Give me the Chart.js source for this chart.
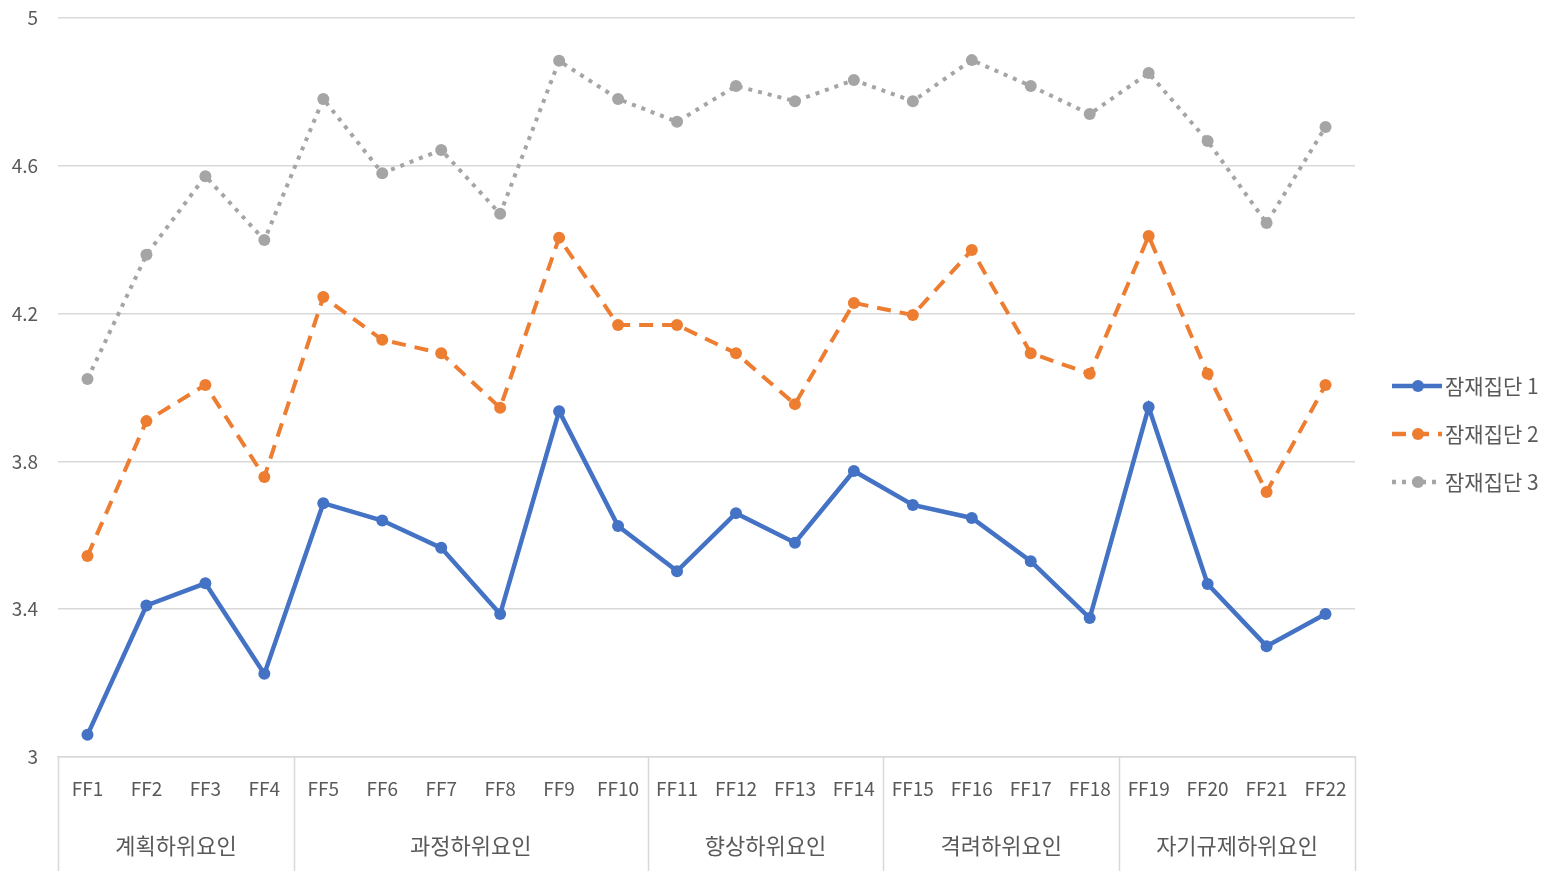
<!DOCTYPE html>
<html>
<head>
<meta charset="utf-8">
<script src="https://cdn.jsdelivr.net/npm/chart.js@4/dist/chart.umd.min.js"></script>
<style>
  html, body { margin: 0; padding: 0; background: #fff; }
  #wrap { width: 1562px; height: 872px; }
</style>
</head>
<body>
<div id="wrap"><canvas id="chart" width="1562" height="872"></canvas></div>
<script>
const categories = ["FF1", "FF2", "FF3", "FF4", "FF5", "FF6", "FF7", "FF8", "FF9", "FF10", "FF11",
  "FF12", "FF13", "FF14", "FF15", "FF16", "FF17", "FF18", "FF19", "FF20", "FF21", "FF22"];
const groupNames = ["계획하위요인", "과정하위요인", "향상하위요인", "격려하위요인", "자기규제하위요인"];
const groupSizes = [4, 6, 4, 4, 4];
const seriesNames = ["잠재집단 1", "잠재집단 2", "잠재집단 3"];
const group1 = [3.06, 3.41, 3.47, 3.225, 3.687, 3.64, 3.566, 3.387, 3.936, 3.625, 3.503,
  3.66, 3.58, 3.774, 3.682, 3.647, 3.53, 3.376, 3.947, 3.468, 3.30, 3.387];
const group2 = [3.544, 3.909, 4.007, 3.758, 4.245, 4.129, 4.093, 3.945, 4.405, 4.169, 4.169,
  4.093, 3.955, 4.229, 4.196, 4.372, 4.093, 4.037, 4.41, 4.037, 3.717, 4.007];
const group3 = [4.023, 4.359, 4.572, 4.399, 4.781, 4.58, 4.643, 4.47, 4.884, 4.781, 4.719,
  4.816, 4.775, 4.832, 4.775, 4.886, 4.816, 4.74, 4.851, 4.667, 4.445, 4.705];
const yTicks = [3, 3.4, 3.8, 4.2, 4.6, 5];

const colors = ["#4472C4", "#ED7D31", "#A5A5A5"];
const dashes = [[], [14, 9], [4, 6]];
const textColor = "#595959";
const gridColor = "#d9d9d9";
const fontFamily = "'Noto Sans CJK KR', 'Noto Sans', sans-serif";

// group labels + divider lines under the x axis, and the legend on the right
const groupAxis = {
  id: "groupAxis",
  afterDraw(chart) {
    const { ctx, chartArea, scales } = chart;
    const x = scales.x;
    const step = x.getPixelForValue(1) - x.getPixelForValue(0);
    const top = chartArea.bottom;
    const bottom = chart.height - 1;
    ctx.save();
    ctx.strokeStyle = gridColor;
    ctx.lineWidth = 1.5;
    let start = 0;
    const edges = [0];
    groupSizes.forEach(n => { start += n; edges.push(start); });
    edges.forEach(i => {
      const px = Math.round(x.getPixelForValue(i) - step / 2) + 0.5;
      ctx.beginPath();
      ctx.moveTo(px, top);
      ctx.lineTo(px, bottom);
      ctx.stroke();
    });
    ctx.fillStyle = textColor;
    ctx.font = "22px " + fontFamily;
    ctx.textAlign = "center";
    ctx.textBaseline = "middle";
    groupNames.forEach((name, g) => {
      const a = x.getPixelForValue(edges[g]) - step / 2;
      const b = x.getPixelForValue(edges[g + 1]) - step / 2;
      ctx.fillText(name, (a + b) / 2, 846);
    });

    // legend
    ctx.textAlign = "left";
    ctx.font = "21px " + fontFamily;
    chart.data.datasets.forEach((ds, i) => {
      const y = 386 + i * 48;
      ctx.strokeStyle = colors[i];
      ctx.lineWidth = 4.5;
      ctx.setLineDash(dashes[i]);
      ctx.beginPath();
      ctx.moveTo(1392, y);
      ctx.lineTo(1442, y);
      ctx.stroke();
      ctx.setLineDash([]);
      ctx.fillStyle = colors[i];
      ctx.beginPath();
      ctx.arc(1418, y, 6, 0, Math.PI * 2);
      ctx.fill();
      ctx.fillStyle = textColor;
      ctx.fillText(ds.label, 1445, y);
    });
    ctx.restore();
  }
};

const datasets = [group1, group2, group3].map((values, i) => ({
  label: seriesNames[i],
  data: values,
  borderColor: colors[i],
  backgroundColor: colors[i],
  borderWidth: i === 0 ? 4.5 : 4,
  borderDash: dashes[i],
  pointRadius: 6,
  pointHoverRadius: 6,
  pointBackgroundColor: colors[i],
  pointBorderWidth: 0,
  tension: 0,
  fill: false
}));

new Chart(document.getElementById("chart"), {
  type: "line",
  data: { labels: categories, datasets },
  options: {
    responsive: false,
    animation: false,
    layout: { padding: { top: 18, right: 207, left: 0, bottom: 0 } },
    plugins: {
      legend: { display: false },
      tooltip: { enabled: false }
    },
    scales: {
      x: {
        offset: true,
        grid: { display: false, drawTicks: false },
        border: { display: true, color: gridColor, width: 1.5 },
        ticks: {
          color: textColor,
          font: { family: fontFamily, size: 19 },
          padding: 20,
          maxRotation: 0,
          autoSkip: false
        },
        afterFit(scale) {
          scale.height = 115;
          scale.paddingLeft = 0;
          scale.paddingRight = 0;
        }
      },
      y: {
        min: 3,
        max: 5,
        afterBuildTicks(scale) { scale.ticks = yTicks.map(v => ({ value: v })); },
        grid: { color: gridColor, lineWidth: 1.5, drawTicks: false },
        border: { display: false },
        ticks: {
          color: textColor,
          font: { family: fontFamily, size: 19 },
          padding: 20,
          callback: v => String(v)
        },
        afterFit(scale) {
          scale.width = 58;
          scale.paddingTop = 0;
          scale.paddingBottom = 0;
        }
      }
    }
  },
  plugins: [groupAxis]
});
</script>
</body>
</html>
